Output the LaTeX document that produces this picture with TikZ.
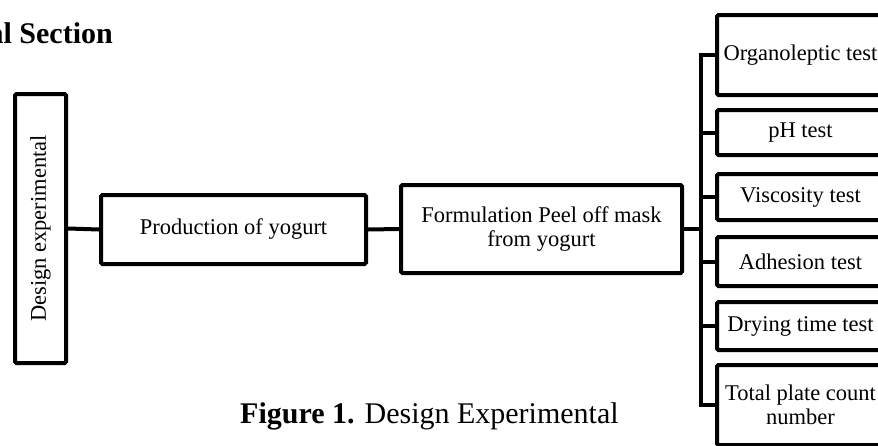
\documentclass[tikz,border=0pt]{standalone}
\usepackage{fontspec}
\setmainfont{Liberation Serif}
\begin{document}
\begin{tikzpicture}[x=1pt,y=-1pt,
  box/.style={draw, line width=4pt, rounded corners=1.5pt, inner sep=0pt, align=center,
              font=\fontsize{22.5}{24}\selectfont},
  testbox/.style={box, minimum width=167pt},
  link/.style={line width=4pt}]
\useasboundingbox (0,0) rectangle (878,445);
\clip (0,0) rectangle (878,445);

\node[anchor=base east, inner sep=0pt, font=\fontsize{30}{32}\selectfont\bfseries] (title) at (113,43) {al Section};

\node[box, minimum width=51pt, minimum height=269pt] (design) at (40.5,228.5) {\rotatebox{90}{Design experimental}};
\node[box, minimum width=265pt, minimum height=69pt] (prod) at (233.5,229.5) {Production of yogurt};
\node[box, minimum width=281pt, minimum height=88pt] (form) at (541.5,229) {Formulation Peel off mask\\from yogurt};

\node[testbox, minimum height=80pt] (org) at (800.5,55) {Organoleptic test};
\node[testbox, minimum height=45pt] (ph) at (800.5,132.5) {pH test};
\node[testbox, minimum height=46pt] (visc) at (800.5,197) {Viscosity test};
\node[testbox, minimum height=49pt] (adh) at (800.5,261.5) {Adhesion test};
\node[testbox, minimum height=48pt] (dry) at (800.5,326) {Drying time test};
\node[testbox, minimum height=80pt] (tpc) at (800.5,405) {Total plate count\\number};

\coordinate (tt) at (701,0);

\draw[link] (design.east) -- (prod.west);
\draw[link] (prod.east) -- (form.west);
\draw[link] (form.east) -- (tt |- form.east);
\draw[link] (org.west) -- (tt |- org.west) -- (tt |- tpc.west) -- (tpc.west);
\draw[link] (tt |- ph.west) -- (ph.west);
\draw[link] (tt |- visc.west) -- (visc.west);
\draw[link] (tt |- adh.west) -- (adh.west);
\draw[link] (tt |- dry.west) -- (dry.west);

\node[anchor=base west, inner sep=0pt, font=\fontsize{30}{32}\selectfont] (cap) at (240,423) {\textbf{Figure 1.} Design Experimental};
\end{tikzpicture}
\end{document}
